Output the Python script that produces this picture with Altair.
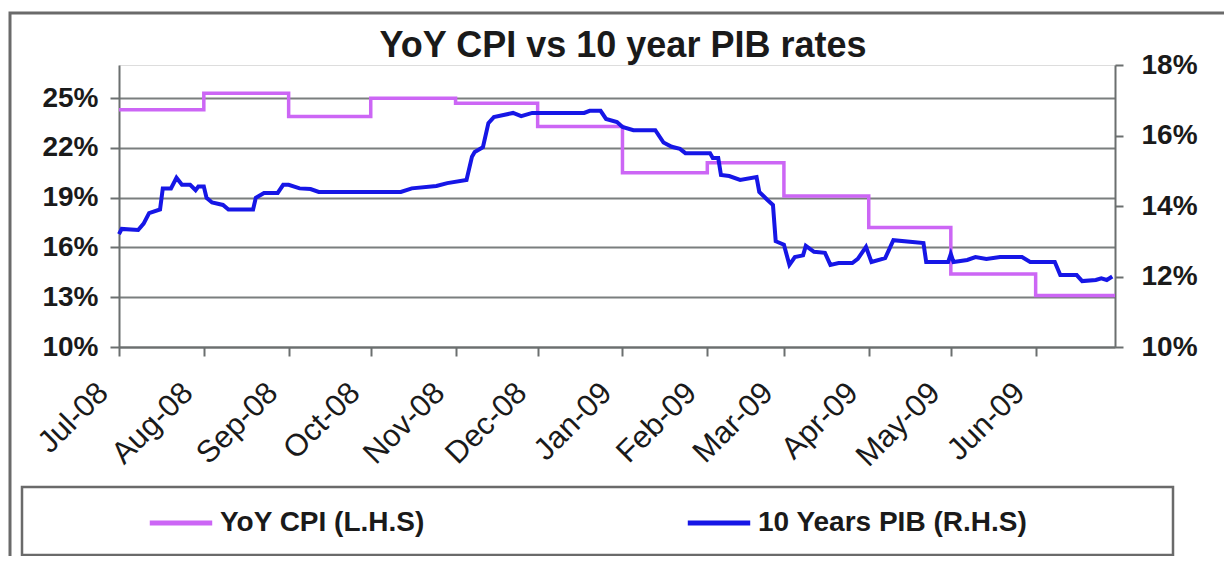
import altair as alt
import pandas as pd

# ---- data -------------------------------------------------------------
cpi_dates = ["2008-07-01", "2008-08-01", "2008-09-01", "2008-10-01", "2008-11-01",
             "2008-12-01", "2009-01-01", "2009-02-01", "2009-03-01", "2009-04-01",
             "2009-05-01", "2009-06-01", "2009-06-30"]
cpi_values = [24.3, 25.3, 23.9, 25.0, 24.7, 23.3, 20.5, 21.1, 19.1, 17.2, 14.4, 13.1, 13.1]

pib_dates = [
    "2008-07-01", "2008-07-02", "2008-07-08", "2008-07-10", "2008-07-12", "2008-07-16",
    "2008-07-17", "2008-07-20", "2008-07-22", "2008-07-24", "2008-07-27", "2008-07-29",
    "2008-07-30", "2008-08-01", "2008-08-02", "2008-08-04", "2008-08-08", "2008-08-10",
    "2008-08-19", "2008-08-20", "2008-08-23", "2008-08-28", "2008-08-30", "2008-09-01",
    "2008-09-05", "2008-09-09", "2008-09-12", "2008-10-12", "2008-10-16", "2008-10-25",
    "2008-10-29", "2008-11-05", "2008-11-07", "2008-11-08", "2008-11-11", "2008-11-13",
    "2008-11-15", "2008-11-22", "2008-11-25", "2008-11-29", "2008-12-18", "2008-12-20",
    "2008-12-24", "2008-12-26", "2008-12-30", "2009-01-01", "2009-01-05", "2009-01-13",
    "2009-01-16", "2009-01-19", "2009-01-22", "2009-01-24", "2009-02-02", "2009-02-03",
    "2009-02-05", "2009-02-06", "2009-02-09", "2009-02-13", "2009-02-19", "2009-02-20",
    "2009-02-23", "2009-02-25", "2009-02-26", "2009-03-01", "2009-03-03", "2009-03-05",
    "2009-03-08", "2009-03-09", "2009-03-12", "2009-03-16", "2009-03-18", "2009-03-21",
    "2009-03-26", "2009-03-28", "2009-03-31", "2009-04-02", "2009-04-07", "2009-04-10",
    "2009-04-17", "2009-04-21", "2009-04-22", "2009-04-30", "2009-05-01", "2009-05-02",
    "2009-05-07", "2009-05-10", "2009-05-14", "2009-05-19", "2009-05-27", "2009-05-30",
    "2009-06-08", "2009-06-10", "2009-06-16", "2009-06-18", "2009-06-23", "2009-06-25",
    "2009-06-27", "2009-06-29"]
pib_values = [
    13.2, 13.35, 13.32, 13.5, 13.8, 13.9,
    14.5, 14.5, 14.8, 14.6, 14.6, 14.45,
    14.55, 14.55, 14.23, 14.1, 14.03, 13.9,
    13.9, 14.23, 14.37, 14.37, 14.6, 14.6,
    14.5, 14.48, 14.4, 14.4, 14.5, 14.57,
    14.65, 14.74, 15.4, 15.53, 15.67, 16.35,
    16.52, 16.64, 16.55, 16.64, 16.64, 16.7,
    16.7, 16.47, 16.38, 16.24, 16.15, 16.15,
    15.8, 15.68, 15.62, 15.5, 15.5, 15.36,
    15.36, 14.88, 14.85, 14.74, 14.82, 14.4,
    14.17, 14.03, 13.0, 12.9, 12.33, 12.55,
    12.6, 12.87, 12.7, 12.67, 12.33, 12.38,
    12.38, 12.5, 12.84, 12.41, 12.52, 13.03,
    12.98, 12.95, 12.41, 12.41, 12.64, 12.41,
    12.47, 12.55, 12.5, 12.55, 12.55, 12.41,
    12.41, 12.04, 12.04, 11.87, 11.9, 11.95,
    11.9, 12.0]

month_ticks = ["2008-07-01", "2008-08-01", "2008-09-01", "2008-10-01", "2008-11-01",
               "2008-12-01", "2009-01-01", "2009-02-01", "2009-03-01", "2009-04-01",
               "2009-05-01", "2009-06-01"]
x_domain = ["2008-07-01", "2009-06-30"]
left_ticks = [10, 13, 16, 19, 22, 25]
right_ticks = [10, 12, 14, 16, 18]
series_names = ["YoY CPI (L.H.S)", "10 Years PIB (R.H.S)"]
series_colors = ["#cc66f5", "#1616e6"]
title_text = ["YoY CPI vs 10 year PIB rates"]


def dt(s):
    y, m, d = (int(p) for p in s.split("-"))
    return alt.DateTime(year=y, month=m, date=d, utc=True)


cpi_df = pd.DataFrame({"date": cpi_dates, "value": cpi_values, "series": series_names[0]})
pib_df = pd.DataFrame({"date": pib_dates, "value": pib_values, "series": series_names[1]})

FONT = "Liberation Sans"
W, H = 996, 282
AX = "#6b6f6f"

x_enc = alt.X(
    "date:T",
    scale=alt.Scale(type="utc", domain=[dt(s) for s in x_domain]),
    axis=alt.Axis(
        values=[dt(s) for s in month_ticks],
        labelExpr="utcFormat(datum.value, '%b-%y')",
        labelAngle=-45, labelAlign="right", labelBaseline="middle",
        labelFontSize=31, labelFont=FONT, labelColor="#1a1a1a",
        labelPadding=32, labelOffset=-16, tickSize=9, tickWidth=2, tickColor=AX,
        domainColor=AX, domainWidth=2, grid=False, title=None,
        labelOverlap=False, labelBound=False, labelFlush=False,
    ),
)

color_enc = alt.Color(
    "series:N",
    scale=alt.Scale(domain=series_names, range=series_colors),
    legend=alt.Legend(
        title=None, orient="none", legendX=28, legendY=424, direction="horizontal",
        symbolType="stroke", symbolSize=3900, symbolStrokeWidth=5,
        labelFontSize=28, labelFont=FONT, labelFontWeight="bold", labelColor="#1a1a1a",
        labelOffset=5, columnPadding=252, labelLimit=400, padding=0,
    ),
)

cpi = alt.Chart(cpi_df).mark_line(interpolate="step-after", strokeWidth=3.5).encode(
    x=x_enc,
    y=alt.Y("value:Q", scale=alt.Scale(domain=[10, 27], nice=False, zero=False),
            axis=alt.Axis(values=left_ticks, labelExpr="datum.value + '%'", orient="left",
                          labelFontSize=28, labelFont=FONT, labelFontWeight="bold",
                          labelColor="#1a1a1a", labelPadding=12, tickSize=9, tickWidth=2,
                          tickColor=AX, domainColor=AX, domainWidth=2,
                          grid=True, gridColor="#7a7e7e", gridWidth=2, title=None)),
    color=color_enc,
)

pib = alt.Chart(pib_df).mark_line(strokeWidth=4).encode(
    x=x_enc,
    y=alt.Y("value:Q", scale=alt.Scale(domain=[10, 18], nice=False, zero=False),
            axis=alt.Axis(values=right_ticks, labelExpr="datum.value + '%'", orient="right",
                          labelFontSize=28, labelFont=FONT, labelFontWeight="bold",
                          labelColor="#1a1a1a", labelPadding=18, tickSize=8, tickWidth=2,
                          tickColor=AX, domainColor=AX, domainWidth=2,
                          grid=False, title=None)),
    color=color_enc,
)

one = pd.DataFrame({"k": [0]})
frame = alt.Chart(one).mark_rect(fill=None, stroke="#6a6a6a", strokeWidth=3).encode(
    x=alt.value(-109), x2=alt.value(1200), y=alt.value(-52), y2=alt.value(700)
)
legend_box = alt.Chart(one).mark_rect(fill=None, stroke="#6a6a6a", strokeWidth=2.5).encode(
    x=alt.value(-97), x2=alt.value(1054), y=alt.value(422), y2=alt.value(490)
)
title = alt.Chart(pd.DataFrame({"t": title_text})).mark_text(
    font=FONT, fontSize=36, fontWeight="bold", color="#1a1a1a",
    align="center", baseline="alphabetic",
).encode(text="t:N", x=alt.value(W / 2 + 6), y=alt.value(-8))

chart = alt.layer(frame, legend_box, title, cpi, pib).resolve_scale(y="independent").properties(
    width=W, height=H,
    padding={"left": 111, "top": 57, "right": 109, "bottom": 209},
    autosize=alt.AutoSizeParams(type="none"),
).configure_view(stroke="#c9d0d0", strokeWidth=2).configure(background="white")

chart.save("out.html", embed_options={"renderer": "svg", "actions": False})
